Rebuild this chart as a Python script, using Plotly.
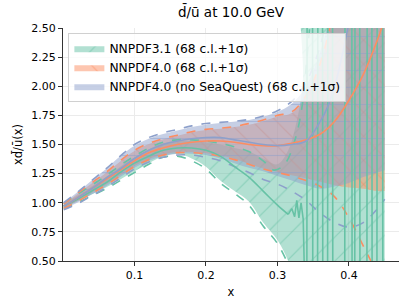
import plotly.graph_objects as go

# ---------------- data ----------------
# NNPDF3.1
x31 = [0.001, 0.02, 0.04, 0.06, 0.08, 0.10, 0.12, 0.14, 0.16, 0.18, 0.20, 0.22, 0.24, 0.26, 0.28, 0.30, 0.315]
c31 = [0.97, 1.03, 1.10, 1.17, 1.26, 1.34, 1.40, 1.45, 1.47, 1.47, 1.45, 1.40, 1.31, 1.22, 1.10, 0.98, 0.90]
# wiggles then oscillating replicas (vertical strokes) beyond x~0.34
x31_osc = [0.32, 0.324, 0.327, 0.330, 0.333, 0.336,
           0.341, 0.3415, 0.349, 0.3495, 0.356, 0.3565, 0.363, 0.3635, 0.370, 0.3705,
           0.377, 0.3775, 0.394, 0.3945, 0.404, 0.4045, 0.408, 0.4085, 0.415, 0.4155,
           0.425, 0.4255, 0.432, 0.4325, 0.439, 0.4395, 0.447, 0.4475]
c31_osc = [0.95, 0.88, 1.02, 0.87, 1.00, 0.86,
           -0.5, 3.0, 3.0, -0.5, -0.5, 3.0, 3.0, -0.5, -0.5, 3.0,
           3.0, -0.5, -0.5, 3.0, 3.0, -0.5, -0.5, 3.0, 3.0, -0.5,
           -0.5, 3.0, 3.0, -0.5, -0.5, 3.0, 3.0, -0.5]
xb31 = [0.001, 0.02, 0.04, 0.06, 0.08, 0.10, 0.12, 0.14, 0.16, 0.18, 0.20, 0.22, 0.24, 0.26, 0.28, 0.30, 0.315, 0.325, 0.335, 0.345, 0.45]
lo31 = [0.955, 1.01, 1.07, 1.13, 1.20, 1.27, 1.34, 1.40, 1.42, 1.38, 1.31, 1.19, 1.10, 1.01, 0.83, 0.68, 0.50, 0.30, -0.2, -0.5, -0.5]
up31 = [0.99, 1.06, 1.14, 1.22, 1.31, 1.39, 1.46, 1.51, 1.53, 1.53, 1.52, 1.50, 1.47, 1.44, 1.38, 1.33, 1.45, 1.65, 2.00, 3.5, 3.5]
xd31 = [0.001, 0.02, 0.04, 0.06, 0.08, 0.10, 0.12, 0.14, 0.16, 0.18, 0.20, 0.22, 0.24, 0.26, 0.28, 0.30, 0.315, 0.322]
dlo31 = [0.95, 1.00, 1.06, 1.12, 1.19, 1.26, 1.33, 1.39, 1.40, 1.36, 1.29, 1.17, 1.08, 0.98, 0.80, 0.65, 0.47, 0.36]
xdu31 = [0.001, 0.02, 0.04, 0.06, 0.08, 0.10, 0.12, 0.14, 0.16, 0.18, 0.20, 0.22, 0.24, 0.26, 0.28, 0.295, 0.31, 0.325, 0.335, 0.342, 0.348]
dup31 = [0.995, 1.07, 1.15, 1.23, 1.32, 1.40, 1.47, 1.52, 1.54, 1.54, 1.53, 1.51, 1.48, 1.44, 1.36, 1.28, 1.33, 1.55, 1.85, 2.30, 2.70]

# NNPDF4.0
x40 = [0.001, 0.02, 0.04, 0.06, 0.08, 0.10, 0.12, 0.14, 0.16, 0.18, 0.20, 0.22, 0.24, 0.26, 0.28, 0.30, 0.32, 0.34, 0.36, 0.38, 0.40, 0.42, 0.44, 0.45]
c40 = [0.97, 1.04, 1.12, 1.20, 1.28, 1.36, 1.43, 1.47, 1.50, 1.52, 1.53, 1.53, 1.52, 1.50, 1.49, 1.49, 1.51, 1.54, 1.59, 1.70, 1.88, 2.10, 2.40, 2.58]
lo40 = [0.955, 1.015, 1.085, 1.155, 1.235, 1.315, 1.375, 1.415, 1.435, 1.435, 1.425, 1.405, 1.375, 1.335, 1.295, 1.265, 1.235, 1.21, 1.18, 1.15, 1.13, 1.12, 1.10, 1.10]
xu40 = [0.001, 0.02, 0.04, 0.06, 0.08, 0.10, 0.12, 0.14, 0.16, 0.18, 0.20, 0.22, 0.24, 0.26, 0.28, 0.30, 0.32, 0.34, 0.36, 0.375, 0.385, 0.45]
up40 = [0.985, 1.075, 1.165, 1.255, 1.355, 1.445, 1.505, 1.545, 1.575, 1.605, 1.625, 1.635, 1.65, 1.67, 1.70, 1.74, 1.77, 1.91, 2.19, 2.54, 2.8, 3.5]
dup40 = [0.99, 1.08, 1.17, 1.26, 1.36, 1.45, 1.51, 1.55, 1.58, 1.61, 1.63, 1.64, 1.655, 1.68, 1.71, 1.75, 1.78, 1.92, 2.20, 2.55, 2.80]
xdl40 = [0.001, 0.02, 0.04, 0.06, 0.08, 0.10, 0.12, 0.14, 0.16, 0.18, 0.20, 0.22, 0.24, 0.26, 0.28, 0.30, 0.32, 0.34, 0.36, 0.38, 0.40, 0.42, 0.43, 0.44]
dlo40 = [0.95, 1.01, 1.08, 1.15, 1.23, 1.31, 1.37, 1.41, 1.43, 1.43, 1.42, 1.40, 1.37, 1.33, 1.29, 1.26, 1.23, 1.19, 1.14, 1.05, 0.87, 0.63, 0.51, 0.38]

# NNPDF4.0 (no SeaQuest)
xns = [0.001, 0.02, 0.04, 0.06, 0.08, 0.10, 0.12, 0.14, 0.16, 0.18, 0.20, 0.22, 0.24, 0.26, 0.28, 0.30, 0.32, 0.34, 0.36, 0.38, 0.40, 0.42, 0.44, 0.45]
cns_x = [0.001, 0.02, 0.04, 0.06, 0.08, 0.10, 0.12, 0.14, 0.16, 0.18, 0.20, 0.22, 0.24, 0.26, 0.28, 0.30, 0.32, 0.34, 0.36, 0.37, 0.38, 0.39, 0.40]
cns = [0.97, 1.04, 1.12, 1.21, 1.29, 1.38, 1.45, 1.50, 1.53, 1.55, 1.56, 1.56, 1.54, 1.52, 1.50, 1.49, 1.50, 1.53, 1.70, 1.82, 2.00, 2.25, 2.55]
lons = [0.95, 1.00, 1.07, 1.14, 1.22, 1.30, 1.36, 1.40, 1.42, 1.42, 1.41, 1.38, 1.34, 1.30, 1.27, 1.23, 1.19, 1.15, 1.12, 1.14, 1.17, 1.22, 1.26, 1.28]
xuns = [0.001, 0.02, 0.04, 0.06, 0.08, 0.10, 0.12, 0.14, 0.16, 0.18, 0.20, 0.22, 0.24, 0.26, 0.28, 0.30, 0.32, 0.34, 0.36, 0.38, 0.39, 0.45]
upns = [1.00, 1.09, 1.19, 1.29, 1.40, 1.49, 1.55, 1.59, 1.62, 1.65, 1.67, 1.685, 1.695, 1.71, 1.74, 1.78, 1.85, 2.00, 2.30, 2.80, 3.5, 3.5]
xduns = [0.001, 0.02, 0.04, 0.06, 0.08, 0.10, 0.12, 0.14, 0.16, 0.18, 0.20, 0.22, 0.24, 0.26, 0.28, 0.30, 0.32, 0.34, 0.36, 0.37]
dupns = [1.00, 1.09, 1.19, 1.29, 1.40, 1.50, 1.56, 1.60, 1.63, 1.66, 1.68, 1.69, 1.70, 1.715, 1.745, 1.79, 1.87, 2.03, 2.35, 2.62]
dlons = [0.94, 0.99, 1.06, 1.13, 1.21, 1.29, 1.35, 1.39, 1.41, 1.41, 1.39, 1.36, 1.31, 1.26, 1.20, 1.16, 1.10, 1.02, 0.91, 0.83, 0.79, 0.83, 0.95, 1.03]

x_ticks = [0.1, 0.2, 0.3, 0.4]
x_ticktext = ["0.1", "0.2", "0.3", "0.4"]
y_ticks = [0.5, 0.75, 1.0, 1.25, 1.5, 1.75, 2.0, 2.25, 2.5]
y_ticktext = ["0.50", "0.75", "1.00", "1.25", "1.50", "1.75", "2.00", "2.25", "2.50"]

names = ["NNPDF3.1 (68 c.l.+1σ)", "NNPDF4.0 (68 c.l.+1σ)", "NNPDF4.0 (no SeaQuest) (68 c.l.+1σ)"]

GREEN = "#66c2a5"
ORANGE = "#fc8d62"
BLUE = "#8da0cb"
def rgba(h, a):
    h = h.lstrip("#")
    return "rgba(%d,%d,%d,%s)" % (int(h[0:2], 16), int(h[2:4], 16), int(h[4:6], 16), a)

fig = go.Figure()

def band(xl, yl, xu, yu, color, shape, name):
    fig.add_trace(go.Scatter(x=xl, y=yl, mode="lines", line=dict(width=0, color=color, shape="spline"),
                             showlegend=False, hoverinfo="skip"))
    fig.add_trace(go.Scatter(x=xu, y=yu, mode="lines", line=dict(width=0, color=color, shape="spline"),
                             fill="tonexty", fillcolor=rgba(color, 0.5),
                             fillpattern=dict(shape=shape, fgcolor=color, bgcolor=rgba(color, 0.5),
                                              size=17, solidity=0.07),
                             name=name, showlegend=True, hoverinfo="skip"))

band(xb31, lo31, xb31, up31, GREEN, "/", names[0])
band(x40, lo40, xu40, up40, ORANGE, "\\", names[1])
band(xns, lons, xuns, upns, BLUE, "-", names[2])

def line(x, y, color, dash, shape="spline"):
    fig.add_trace(go.Scatter(x=x, y=y, mode="lines", line=dict(width=1.6, color=color, dash=dash, shape=shape),
                             showlegend=False, hoverinfo="skip"))

# dashed 1-sigma lines
line(xd31, dlo31, GREEN, "dash")
line(xdu31, dup31, GREEN, "dash")
line(xdl40, dlo40, ORANGE, "dash")
line(xu40[:-1], dup40, ORANGE, "dash")
line(xns, dlons, BLUE, "dash")
line(xduns, dupns, BLUE, "dash")
# central values
line(x31, c31, GREEN, "solid")
line([x31[-1]] + x31_osc, [c31[-1]] + c31_osc, GREEN, "solid", shape="linear")
line(x40, c40, ORANGE, "solid")
line(cns_x, cns, BLUE, "solid")

FONT = "DejaVu Sans"
fig.update_layout(
    width=407, height=305,
    margin=dict(l=63, r=8, t=28, b=44),
    paper_bgcolor="white", plot_bgcolor="white",
    font=dict(family=FONT, size=11, color="black"),
    title=dict(text="d̄/ū at 10.0 GeV", x=0.5, xref="paper", xanchor="center",
               y=1 - 12 / 305, yref="container", yanchor="middle",
               font=dict(family=FONT, size=13.5, color="black")),
    legend=dict(x=0.016, y=0.98, xanchor="left", yanchor="top", traceorder="normal",
                bgcolor="rgba(255,255,255,0.8)", bordercolor="#d0d0d0", borderwidth=1,
                font=dict(family=FONT, size=12.3, color="black"), tracegroupgap=0),
    showlegend=True,
    hovermode=False,
)
fig.update_xaxes(range=[0.0, 0.47], tickvals=x_ticks, ticktext=x_ticktext,
                 showline=True, linecolor="#333333", linewidth=1.2, ticks="outside", ticklen=4,
                 tickcolor="#333333", showgrid=True, gridcolor="#ebebeb", zeroline=False,
                 title=dict(text="x", font=dict(family=FONT, size=11.5), standoff=6))
fig.update_yaxes(range=[0.5, 2.5], tickvals=y_ticks, ticktext=y_ticktext,
                 showline=True, linecolor="#333333", linewidth=1.2, ticks="outside", ticklen=4,
                 tickcolor="#333333", showgrid=True, gridcolor="#ebebeb", zeroline=False,
                 title=dict(text="xd̄/ū(x)", font=dict(family=FONT, size=11.5), standoff=6))

fig.write_html("out.html", config={"displayModeBar": False},
               post_script="document.body.style.margin='0';document.body.style.padding='0';")
